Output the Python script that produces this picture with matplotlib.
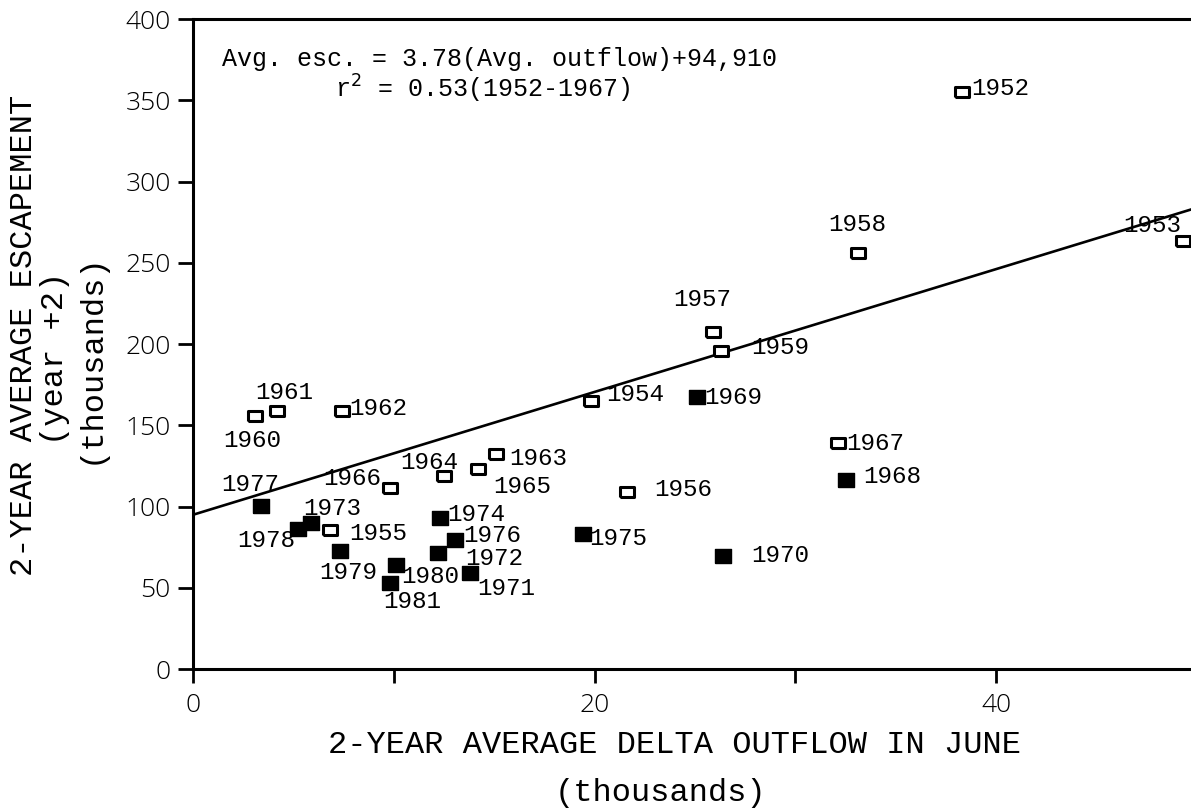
import numpy as np
import matplotlib
matplotlib.use("Agg")
import matplotlib.pyplot as plt

# regression years 1952-1967 (open squares)
years_open = [1952, 1953, 1954, 1955, 1956, 1957, 1958, 1959,
              1960, 1961, 1962, 1963, 1964, 1965, 1966, 1967]
outflow_open = [38.3, 49.3, 19.8, 6.8, 21.6, 25.9, 33.1, 26.3,
                3.1, 4.2, 7.4, 15.1, 12.5, 14.2, 9.8, 32.1]
escape_open = [355, 263.6, 164.9, 85.4, 109, 207.3, 256, 196,
               155.5, 159, 158.5, 132.1, 118.6, 123.3, 111.4, 139]

# later years 1968-1981 (filled squares)
years_filled = [1968, 1969, 1970, 1971, 1972, 1973, 1974,
                1975, 1976, 1977, 1978, 1979, 1980, 1981]
outflow_filled = [32.5, 25.1, 26.4, 13.8, 12.2, 5.9, 12.3,
                  19.4, 13.05, 3.4, 5.25, 7.3, 10.1, 9.8]
escape_filled = [116.5, 167.3, 69.4, 59.2, 71.1, 89.9, 93,
                 82.9, 79.3, 100.4, 86.4, 72.5, 64.3, 53]

slope = 3.78
intercept = 94.91

x_ticks = [0, 10, 20, 30, 40]
x_ticklabels = ["0", "", "20", "", "40"]
y_ticks = [0, 50, 100, 150, 200, 250, 300, 350, 400]

# label placement: (ha, dx, dy) in pixels from the marker, dy downwards
label_pos = {
    1952: ("left", 9, -4), 1953: ("right", -2, -15), 1954: ("left", 16, -7),
    1955: ("left", 20, 3), 1956: ("left", 28, -2), 1957: ("center", -11, -33),
    1958: ("center", 0, -29), 1959: ("left", 30, -3), 1960: ("center", -3, 24),
    1961: ("center", 7, -18), 1962: ("left", 8, -3), 1963: ("left", 13, 4),
    1964: ("center", -15, -14), 1965: ("left", 15, 18), 1966: ("right", -9, -9),
    1967: ("left", 9, 0), 1968: ("left", 18, -3), 1969: ("left", 7, 0),
    1970: ("left", 28, -1), 1971: ("left", 7, 16), 1972: ("left", 27, 5),
    1973: ("center", 21, -14), 1974: ("left", 7, -3), 1975: ("left", 7, 4),
    1976: ("left", 8, -5), 1977: ("center", -11, -21), 1978: ("center", -32, 12),
    1979: ("center", 9, 21), 1980: ("left", 5, 12), 1981: ("center", 22, 19),
}

mono = "Liberation Mono"
sans = ["Open Sans", "DejaVu Sans"]

fig = plt.figure(figsize=(11.91, 8.09), dpi=100)
ax = fig.add_axes([0.16205, 0.17305, 0.83795, 0.80346])

# regression line
xl = np.array([0, 50])
ax.plot(xl, slope * xl + intercept, color="black", lw=1.9, zorder=2)

open_rect = [(-1, -0.72), (1, -0.72), (1, 0.72), (-1, 0.72), (-1, -0.72)]
fill_rect = [(-1, -0.85), (1, -0.85), (1, 0.85), (-1, 0.85), (-1, -0.85)]
ax.plot(outflow_open, escape_open, linestyle="none", marker=open_rect,
        markersize=10.5, markerfacecolor="white", markeredgecolor="black",
        markeredgewidth=2.2, zorder=3)
ax.plot(outflow_filled, escape_filled, linestyle="none", marker=fill_rect,
        markersize=11.5, color="black", zorder=3)

for yrs, xs, ys in [(years_open, outflow_open, escape_open),
                    (years_filled, outflow_filled, escape_filled)]:
    for yr, xv, yv in zip(yrs, xs, ys):
        ha, dx, dy = label_pos[yr]
        ax.annotate(str(yr), (xv, yv), xytext=(dx, -dy),
                    textcoords="offset pixels", ha=ha, va="center",
                    fontsize=17.5, family=mono, zorder=4)

ax.text(1.44, 375.4, "Avg. esc. = 3.78(Avg. outflow)+94,910",
        ha="left", va="center", fontsize=18, family=mono)
ax.text(7.07, 357, "r$^2$ = 0.53(1952-1967)", ha="left", va="center",
        fontsize=18, family=mono)

ax.set_xlim(0, 49.7)
ax.set_ylim(0, 400)
ax.set_xticks(x_ticks)
ax.set_xticklabels(x_ticklabels)
ax.set_yticks(y_ticks)
for lab in ax.get_xticklabels() + ax.get_yticklabels():
    lab.set_family(sans)
    lab.set_fontsize(19)
    lab.set_fontweight("light")
ax.tick_params(axis="y", direction="out", length=11, width=2.0, pad=5)
ax.tick_params(axis="x", direction="out", length=10, width=2.0, pad=7)

ax.spines["right"].set_visible(False)
for s in ["left", "bottom", "top"]:
    ax.spines[s].set_linewidth(2.2)

# axis titles (typewritten)
fig.text(674 / 1191, 1 - 745 / 809, "2-YEAR AVERAGE DELTA OUTFLOW IN JUNE",
         ha="center", va="center", fontsize=23, family=mono)
fig.text(660 / 1191, 1 - 793 / 809, "(thousands)",
         ha="center", va="center", fontsize=23, family=mono)
fig.text(24 / 1191, 1 - 335 / 809, "2-YEAR AVERAGE ESCAPEMENT",
         ha="center", va="center", rotation=90, fontsize=23, family=mono)
fig.text(55 / 1191, 1 - 358 / 809, "(year +2)",
         ha="center", va="center", rotation=90, fontsize=23, family=mono)
fig.text(91 / 1191, 1 - 358 / 809, "(thousands)",
         ha="center", va="center", rotation=90, fontsize=23, family=mono)

fig.savefig("out.png", dpi=100)
